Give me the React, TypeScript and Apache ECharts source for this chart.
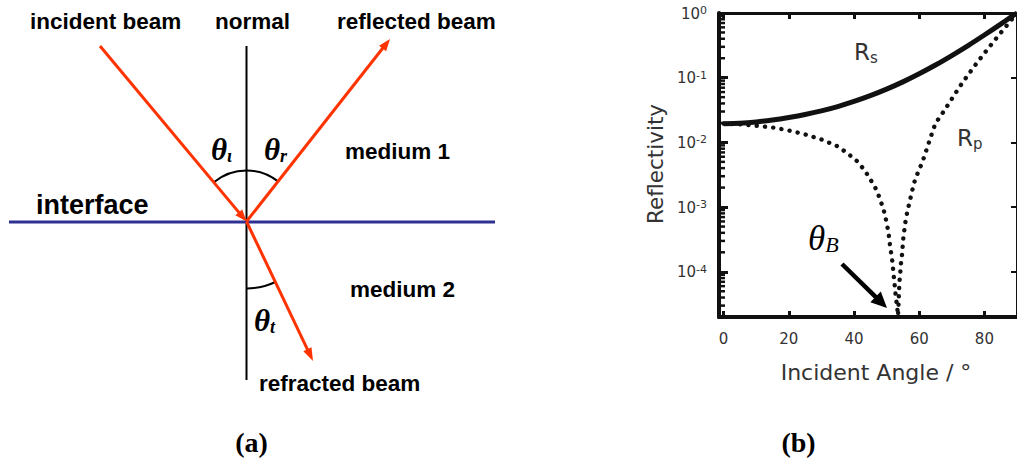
import React, { useEffect, useRef } from "react";
import * as echarts from "echarts";

// s-polarised reflectivity against incident angle (degrees)
const rsAngles = [0, 5, 10, 15, 20, 25, 30, 35, 40, 45, 50, 55, 60, 65, 70, 75, 80, 85, 88, 90];
const rsValues = [0.0195, 0.0198, 0.0207, 0.0222, 0.0243, 0.027, 0.0307, 0.0358, 0.0429, 0.0527, 0.0665, 0.0862, 0.115, 0.157, 0.22, 0.314, 0.457, 0.674, 0.854, 1.0];

// p-polarised reflectivity, falling to ~0 at the Brewster angle
const rpAngles = [0, 5, 10, 15, 20, 25, 30, 35, 38, 41, 43.4, 45.1, 46.6, 47.6, 48.4, 49.1, 49.7, 50.2, 50.6, 50.9, 51.2, 51.6, 51.9, 52.1, 52.4, 52.6, 52.9, 53.2, 53.5, 53.7, 53.85, 54.0, 54.2, 54.4, 54.7, 54.9, 55.1, 55.4, 55.7, 56.1, 56.6, 57.2, 57.8, 58.4, 59.2, 60.2, 61.1, 61.9, 62.7, 63.6, 64.4, 65.7, 67.5, 70, 72.5, 75, 77.5, 80, 82.5, 85, 88, 90];
const rpValues = [0.0195, 0.019, 0.0181, 0.017, 0.0153, 0.0133, 0.0111, 0.0087, 0.0068, 0.0051, 0.00363, 0.00264, 0.00196, 0.00149, 0.00115, 0.00091, 0.00068, 0.00051, 0.0004, 0.000295, 0.000225, 0.00017, 0.000125, 0.000095, 0.000069, 0.000053, 0.000039, 0.00003, 0.000021, 0.000034, 0.000054, 0.000075, 0.000097, 0.000133, 0.000177, 0.000237, 0.00032, 0.00042, 0.00056, 0.00073, 0.00096, 0.00129, 0.00174, 0.00234, 0.00304, 0.004, 0.0052, 0.0068, 0.0091, 0.0123, 0.0166, 0.0222, 0.03, 0.047, 0.0736, 0.111, 0.164, 0.239, 0.345, 0.493, 0.755, 1.0];

const xTickValues = [0, 20, 40, 60, 80];
const yDecades = [1e-5, 1e-4, 1e-3, 1e-2, 1e-1];
const minorMultipliers = [2, 3, 4, 5, 6, 7, 8, 9];

const X_MIN = -1.4;
const X_MAX = 90;
const Y_MIN = 2e-5;
const Y_MAX = 1;

// Ray diagram geometry (pixels)
const HIT: [number, number] = [246.5, 221.5];
const INCIDENT_FROM: [number, number] = [100, 46];
const REFLECTED_TO: [number, number] = [390, 39];
const REFRACTED_TO: [number, number] = [313, 361];

const RED = "#ff3300";
const INK = "#111";
const GREY_TEXT = "#333";
const SANS = "Liberation Sans";
const PLOT_FONT = "DejaVu Sans";
const SERIF = "Liberation Serif";

const deg = Math.PI / 180;

function arrowHead(from: number[], tip: number[], len: number, width: number, color: string) {
  const dx = tip[0] - from[0];
  const dy = tip[1] - from[1];
  const d = Math.hypot(dx, dy);
  const ux = dx / d;
  const uy = dy / d;
  const bx = tip[0] - ux * len;
  const by = tip[1] - uy * len;
  return {
    type: "polygon",
    shape: {
      points: [
        [tip[0], tip[1]],
        [bx - uy * width / 2, by + ux * width / 2],
        [bx + uy * width / 2, by - ux * width / 2],
      ],
    },
    style: { fill: color },
    z: 10,
  };
}

function shaft(from: number[], tip: number[], back: number, width: number, color: string) {
  const dx = tip[0] - from[0];
  const dy = tip[1] - from[1];
  const d = Math.hypot(dx, dy);
  return {
    type: "line",
    shape: { x1: from[0], y1: from[1], x2: tip[0] - (dx / d) * back, y2: tip[1] - (dy / d) * back },
    style: { stroke: color, lineWidth: width },
    z: 9,
  };
}

function label(text: string, x: number, y: number, size: number, extra: any = {}) {
  return {
    type: "text",
    x,
    y,
    z: 12,
    style: {
      text,
      fontFamily: SANS,
      fontWeight: "bold",
      fontSize: size,
      fill: "#000",
      align: "left",
      verticalAlign: "middle",
      ...extra,
    },
  };
}

function thetaLabel(sub: string, x: number, y: number) {
  return {
    type: "text",
    x,
    y,
    z: 12,
    style: {
      text: `{a|θ}{b|${sub}}`,
      align: "left",
      verticalAlign: "middle",
      rich: {
        a: { fontFamily: SERIF, fontStyle: "italic", fontWeight: "bold", fontSize: 31, lineHeight: 32, fill: "#000" },
        b: { fontFamily: SERIF, fontStyle: "italic", fontWeight: "bold", fontSize: 18, lineHeight: 16, verticalAlign: "bottom", fill: "#000" },
      },
    },
  };
}

function angleOf(p: number[]) {
  return Math.atan2(p[1] - HIT[1], p[0] - HIT[0]);
}

export default function App() {
  const ref = useRef<HTMLDivElement>(null);

  useEffect(() => {
    if (!ref.current) return;
    const chart = echarts.init(ref.current, null, { renderer: "svg" });

    const incAngle = angleOf(INCIDENT_FROM);
    const refAngle = angleOf(REFLECTED_TO);
    const trAngle = angleOf(REFRACTED_TO);

    const graphic: any[] = [
      // normal
      { type: "line", shape: { x1: HIT[0], y1: 46, x2: HIT[0], y2: 380 }, style: { stroke: "#000", lineWidth: 2 }, z: 5 },
      // interface
      { type: "line", shape: { x1: 9, y1: 222, x2: 495, y2: 222 }, style: { stroke: "#2e3192", lineWidth: 3 }, z: 6 },
      // beams
      shaft(INCIDENT_FROM, HIT, 8, 3, RED),
      arrowHead(INCIDENT_FROM, HIT, 12, 9, RED),
      shaft(HIT, REFLECTED_TO, 8, 3, RED),
      arrowHead(HIT, REFLECTED_TO, 12, 9, RED),
      shaft(HIT, REFRACTED_TO, 8, 3, RED),
      arrowHead(HIT, REFRACTED_TO, 13, 9, RED),
      // angle arcs
      { type: "arc", shape: { cx: HIT[0], cy: HIT[1], r: 51, startAngle: incAngle, endAngle: -90 * deg, clockwise: true }, style: { stroke: "#000", lineWidth: 2, fill: "none" }, z: 7 },
      { type: "arc", shape: { cx: HIT[0], cy: HIT[1], r: 51, startAngle: -90 * deg, endAngle: refAngle, clockwise: true }, style: { stroke: "#000", lineWidth: 2, fill: "none" }, z: 7 },
      { type: "arc", shape: { cx: HIT[0], cy: HIT[1], r: 67, startAngle: trAngle, endAngle: 90 * deg, clockwise: true }, style: { stroke: "#000", lineWidth: 2, fill: "none" }, z: 7 },
      // diagram labels
      label("incident beam", 30, 21, 22.5),
      label("normal", 215, 21, 22.5),
      label("reflected beam", 337, 21, 22.5),
      label("medium 1", 345, 151, 22.5),
      label("medium 2", 350, 289, 22.5),
      label("refracted beam", 259, 383, 22.5),
      label("interface", 36, 205, 27),
      thetaLabel("ι", 211, 149),
      thetaLabel("r", 264, 149),
      thetaLabel("t", 254, 320),
      // panel captions
      label("(a)", 251.5, 442, 28, { fontFamily: SERIF, align: "center" }),
      label("(b)", 798.5, 442, 28, { fontFamily: SERIF, align: "center" }),
      // plot annotations
      {
        type: "text", x: 854, y: 52, z: 12,
        style: {
          text: "{a|R}{b|s}", align: "left", verticalAlign: "middle",
          rich: {
            a: { fontFamily: PLOT_FONT, fontSize: 23, lineHeight: 26, fill: GREY_TEXT },
            b: { fontFamily: PLOT_FONT, fontSize: 15, lineHeight: 16, verticalAlign: "bottom", fill: GREY_TEXT },
          },
        },
      },
      {
        type: "text", x: 957, y: 138, z: 12,
        style: {
          text: "{a|R}{b|p}", align: "left", verticalAlign: "middle",
          rich: {
            a: { fontFamily: PLOT_FONT, fontSize: 23, lineHeight: 26, fill: GREY_TEXT },
            b: { fontFamily: PLOT_FONT, fontSize: 15, lineHeight: 16, verticalAlign: "bottom", fill: GREY_TEXT },
          },
        },
      },
      {
        type: "text", x: 808, y: 238, z: 12,
        style: {
          text: "{a|θ}{b|B}", align: "left", verticalAlign: "middle",
          rich: {
            a: { fontFamily: SERIF, fontStyle: "italic", fontSize: 35, lineHeight: 34, fill: "#000" },
            b: { fontFamily: SERIF, fontStyle: "italic", fontSize: 22, lineHeight: 20, verticalAlign: "bottom", fill: "#000" },
          },
        },
      },
      shaft([842, 264], [887, 308], 12, 4.5, "#000"),
      arrowHead([842, 264], [887, 308], 16, 15, "#000"),
      {
        type: "text", x: 655, y: 164, rotation: Math.PI / 2, z: 12,
        style: { text: "Reflectivity", fontFamily: PLOT_FONT, fontSize: 21.5, fill: GREY_TEXT, align: "center", verticalAlign: "middle" },
      },
      {
        type: "text", x: 876, y: 372, z: 12,
        style: { text: "Incident Angle / °", fontFamily: PLOT_FONT, fontSize: 22, fill: GREY_TEXT, align: "center", verticalAlign: "middle" },
      },
    ];

    const frameLine = { show: true, onZero: false, lineStyle: { color: INK, width: 4 } };

    const yLabel = {
      margin: 12,
      formatter: (v: number) => {
        const e = Math.log10(v);
        const r = Math.round(e);
        if (Math.abs(e - r) > 1e-6) return "";
        return `{b|10}{s|${r}}`;
      },
      rich: {
        b: { fontFamily: PLOT_FONT, fontSize: 15, color: GREY_TEXT, lineHeight: 16, verticalAlign: "bottom" },
        s: { fontFamily: PLOT_FONT, fontSize: 11, color: GREY_TEXT, lineHeight: 12, verticalAlign: "top", padding: [0, 0, 11, 0] },
      },
    };

    chart.setOption({
      animation: false,
      backgroundColor: "#fff",
      grid: { left: 719, top: 13, width: 303, height: 304, containLabel: false },
      xAxis: [
        {
          type: "value", position: "bottom", min: X_MIN, max: X_MAX,
          axisLine: frameLine,
          axisTick: { show: true, inside: true, length: 6, lineStyle: { color: INK, width: 3 }, customValues: xTickValues },
          axisLabel: { customValues: xTickValues, margin: 14, fontFamily: PLOT_FONT, fontSize: 15, color: GREY_TEXT },
          splitLine: { show: false },
        },
        {
          type: "value", position: "top", min: X_MIN, max: X_MAX,
          axisLine: { show: true, onZero: false, lineStyle: { color: INK, width: 3 } },
          axisTick: { show: true, inside: true, length: 6, lineStyle: { color: INK, width: 3 }, customValues: xTickValues },
          axisLabel: { show: false },
          splitLine: { show: false },
        },
      ],
      yAxis: [
        {
          type: "log", logBase: 10, min: Y_MIN, max: Y_MAX, position: "left",
          axisLine: frameLine,
          axisTick: { show: true, inside: true, length: 9, lineStyle: { color: INK, width: 3 } },
          axisLabel: yLabel,
          splitLine: { show: false },
        },
        {
          type: "log", logBase: 10, min: Y_MIN, max: Y_MAX, position: "right",
          axisLine: { show: true, onZero: false, lineStyle: { color: INK, width: 3 } },
          axisTick: { show: true, inside: true, length: 6, lineStyle: { color: INK, width: 2 } },
          axisLabel: { show: false },
          splitLine: { show: false },
        },
      ],
      series: [
        {
          name: "Rs", type: "line", xAxisIndex: 0, yAxisIndex: 0,
          data: rsAngles.map((a, i) => [a, rsValues[i]]),
          symbol: "none", smooth: 0.3,
          lineStyle: { color: INK, width: 5 },
          z: 4,
        },
        {
          name: "Rp", type: "line", xAxisIndex: 0, yAxisIndex: 0,
          data: rpAngles.map((a, i) => [a, rpValues[i]]),
          symbol: "none", smooth: false,
          lineStyle: { color: INK, width: 4.4, type: [0.1, 8.2], cap: "round" },
          z: 3,
        },
      ],
    });

    // minor ticks of the log axis (2..9 in each decade), placed through the axis scale
    const minorTickLines: any[] = [];
    yDecades.forEach((d) =>
      minorMultipliers.forEach((k) => {
        const v = k * d;
        if (v < Y_MIN || v >= Y_MAX) return;
        const p = chart.convertToPixel({ seriesIndex: 0 }, [X_MIN, v]) as number[];
        if (!p || !isFinite(p[0]) || !isFinite(p[1])) return;
        minorTickLines.push({
          type: "line",
          shape: { x1: p[0] - 2, y1: p[1], x2: p[0] + 6, y2: p[1] },
          style: { stroke: INK, lineWidth: 2.5 },
          z: 20,
        });
      })
    );

    chart.setOption({ graphic: [...graphic, ...minorTickLines] });

    return () => chart.dispose();
  }, []);

  return (
    <div
      ref={ref}
      style={{ position: "fixed", left: 0, top: 0, width: 1017, height: 461, background: "#fff" }}
    />
  );
}
